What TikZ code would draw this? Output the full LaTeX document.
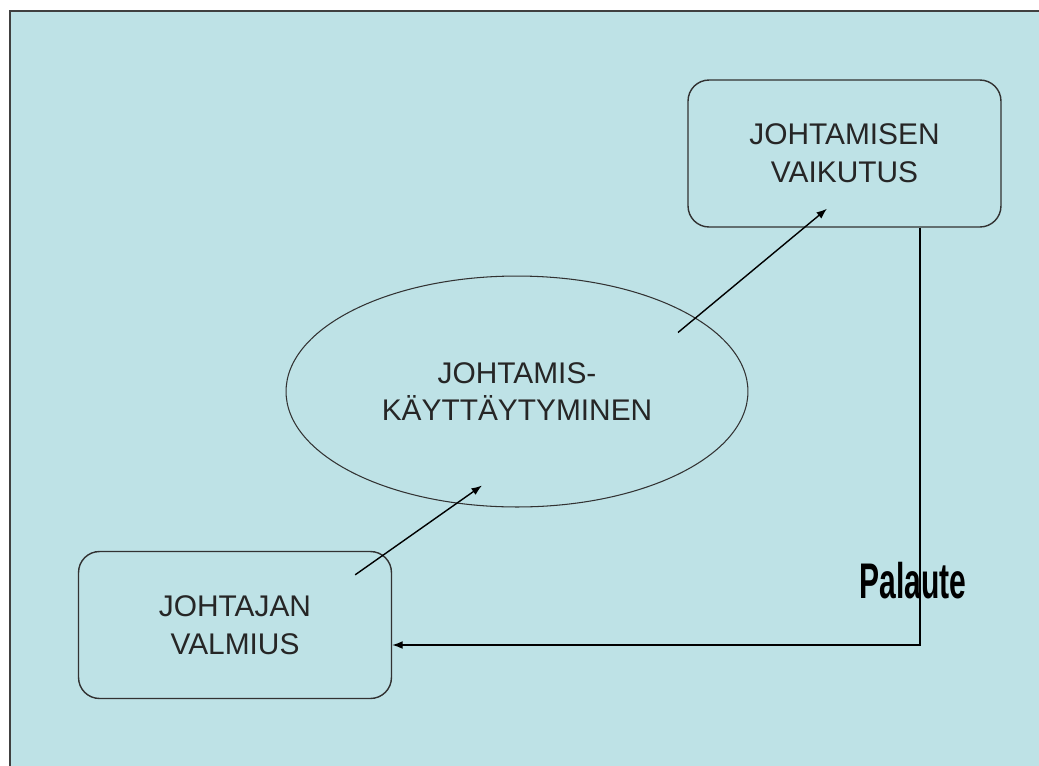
\documentclass[tikz,border=0pt]{standalone}
\usepackage{fontspec}
\setmainfont{Liberation Sans}
\newfontfamily\narrowfont[FakeStretch=0.6]{Liberation Sans}
\usepackage{tikz}
\usetikzlibrary{shapes.geometric, arrows.meta, calc}
\definecolor{bgcolor}{RGB}{190,226,230}
\definecolor{linecolor}{RGB}{50,50,50}

\begin{document}
\begin{tikzpicture}[
    x=0.02cm, y=-0.02cm,
    box/.style={draw=linecolor, line width=0.8pt, fill=bgcolor, rounded corners=0.42cm, minimum width=6.26cm, minimum height=2.94cm, align=center, text=black!85, font=\fontsize{17}{21.5}\selectfont},
    oval/.style={ellipse, draw=linecolor, line width=0.6pt, fill=bgcolor, minimum width=9.24cm, minimum height=4.62cm, align=center, text=black!85, font=\fontsize{17}{21.5}\selectfont},
    arrow/.style={-{Latex[length=6pt,width=4.5pt]}, line width=0.8pt, black}
]
    % Page and frame
    \useasboundingbox (0,0) rectangle (1039,765);
    \clip (0,0) rectangle (1039,765);
    \fill[white] (0,0) rectangle (1039,765);
    \draw[fill=bgcolor, draw=black!75, line width=1.4pt] (10,11) rectangle (1060,790);

    % Boxes
    \node[box] (vaikutus) at (844.5,153.5) {JOHTAMISEN\\VAIKUTUS};
    \node[oval] (kayttaytyminen) at (517,391.5) {JOHTAMIS-\\K\"AYTT\"AYTYMINEN};
    \node[box] (valmius) at (235,625) {JOHTAJAN\\VALMIUS};

    % Arrows
    \draw[arrow] ([shift={(-37,24)}]valmius.north east) -- ([shift={(-35,-22)}]kayttaytyminen.south);
    \draw[arrow] ([shift={(161,57)}]kayttaytyminen.north) -- ([shift={(-17.5,-19)}]vaikutus.south);

    % Feedback
    \draw[arrow] ([xshift=1.51cm]vaikutus.south) |- ([yshift=-0.4cm]valmius.east);
    \node[font=\narrowfont\bfseries\fontsize{28.5}{30}\selectfont] (palaute) at (913,581) {Palaute};
\end{tikzpicture}
\end{document}
